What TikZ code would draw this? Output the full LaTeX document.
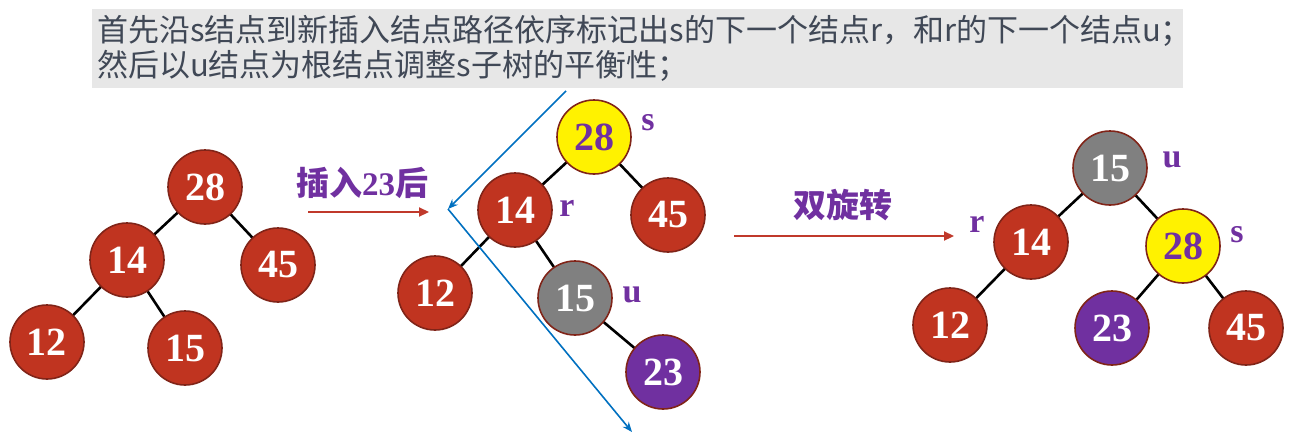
\documentclass[tikz,border=0pt]{standalone}
\usepackage{fontspec}
\setmainfont{Liberation Serif}
\newfontfamily\cjk{Noto Sans CJK SC}
\usetikzlibrary{arrows.meta}
\definecolor{nodered}{RGB}{192,52,32}
\definecolor{rim}{RGB}{128,36,24}
\definecolor{nodegrey}{RGB}{128,128,128}
\definecolor{plum}{RGB}{112,48,160}
\definecolor{arrowred}{RGB}{192,57,43}
\definecolor{trace}{RGB}{0,112,192}
\definecolor{headbg}{RGB}{231,231,231}
\definecolor{headtext}{RGB}{64,72,86}

\begin{document}
\begin{tikzpicture}[x=1pt,y=-1pt]
\tikzset{every node/.style={inner sep=0pt}}
\tikzset{key/.style={circle, draw=rim, line width=1.6pt, fill=nodered, text=white, minimum size=74pt, font=\bfseries\fontsize{40}{40}\selectfont}}
\tikzset{grey/.style={fill=nodegrey}}
\tikzset{yel/.style={fill=yellow, text=plum}}
\tikzset{fresh/.style={fill=plum}}
\tikzset{tag/.style={text=plum, font=\bfseries\fontsize{34}{34}\selectfont}}
\tikzset{link/.style={line width=2.6pt}}
\tikzset{go/.style={draw=arrowred, line width=2.2pt, -{Triangle[length=10pt,width=9pt]}}}
\tikzset{mark path/.style={draw=trace, line width=1.6pt, -{Stealth[length=10pt,width=8pt]}}}
\useasboundingbox (0,0) rectangle (1298,442);

\node[fill=headbg, minimum width=1091pt, minimum height=79pt, text width=1081pt, align=left, text=headtext, font=\cjk\fontsize{31}{35}\selectfont] (note) at (637.5,48) {首先沿s结点到新插入结点路径依序标记出s的下一个结点r，和r的下一个结点u；\\然后以u结点为根结点调整s子树的平衡性；};

\draw[link] (205,187) -- (127,260) -- (47,342);
\draw[link] (205,187) -- (278,265);
\draw[link] (127,260) -- (185,348);
\node[key] (a28) at (205,187) {28};
\node[key] (a14) at (127,260) {14};
\node[key] (a45) at (278,265) {45};
\node[key] (a12) at (47,342) {12};
\node[key] (a15) at (185,348) {15};

\node[text=plum, font=\cjk\bfseries\fontsize{33}{33}\selectfont] (ins) at (362,183) {插入{\rmfamily\bfseries 23}后};
\coordinate (insa) at (308,212);
\coordinate (insb) at (429,212);
\draw[go] (insa) -- (insb);

\draw[link] (594,137) -- (515,210) -- (435,293);
\draw[link] (594,137) -- (668,215);
\draw[link] (515,210) -- (575,298) -- (663,372);
\node[key, yel] (b28) at (594,137) {28};
\node[key] (b14) at (515,210) {14};
\node[key] (b45) at (668,215) {45};
\node[key] (b12) at (435,293) {12};
\node[key, grey] (b15) at (575,298) {15};
\node[key, fresh] (b23) at (663,372) {23};
\node[tag] (bs) at (648,123) {s};
\node[tag] (br) at (567,208) {r};
\node[tag] (bu) at (632,295) {u};

\coordinate (ta) at (566,91);
\coordinate (tb) at (448,209);
\coordinate (tc) at (632,432);
\draw[mark path] (ta) -- (tb);
\draw[mark path] (tb) -- (tc);

\node[text=plum, font=\cjk\bfseries\fontsize{33}{33}\selectfont] (rot) at (843,205) {双旋转};
\coordinate (rota) at (734,236);
\coordinate (rotb) at (954,236);
\draw[go] (rota) -- (rotb);

\draw[link] (1110,168) -- (1031,242) -- (950,325);
\draw[link] (1110,168) -- (1183,246) -- (1112,328);
\draw[link] (1183,246) -- (1246,328);
\node[key, grey] (c15) at (1110,168) {15};
\node[key] (c14) at (1031,242) {14};
\node[key, yel] (c28) at (1183,246) {28};
\node[key] (c12) at (950,325) {12};
\node[key, fresh] (c23) at (1112,328) {23};
\node[key] (c45) at (1246,328) {45};
\node[tag] (cu) at (1172,160) {u};
\node[tag] (cr) at (977,224) {r};
\node[tag] (cs) at (1237,235) {s};
\end{tikzpicture}
\end{document}
